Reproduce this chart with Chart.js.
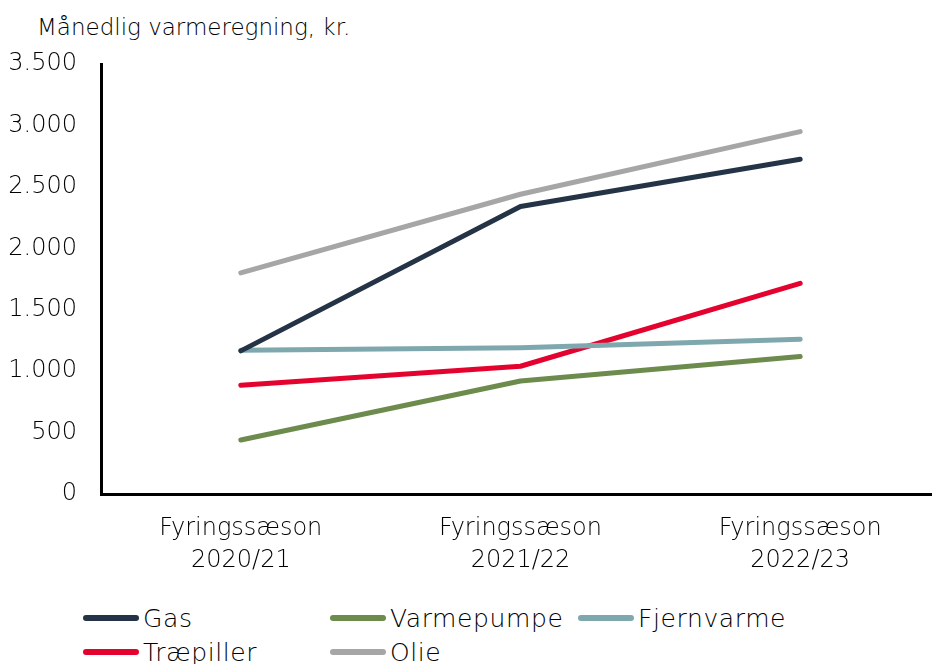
<!DOCTYPE html>
<html>
<head>
<meta charset="utf-8">
<script src="https://cdn.jsdelivr.net/npm/chart.js@4/dist/chart.umd.min.js"></script>
<style>
  html, body { margin: 0; padding: 0; background: #fff; overflow: hidden; width: 932px; height: 664px; }
  #wrap { position: absolute; left: 0; top: 0; width: 945px; height: 580px; }
  #title { position: absolute; left: 37px; top: 14px; font: 200 23px "DejaVu Sans", sans-serif; color: #000; }
  .leg { position: absolute; font: 200 25px "DejaVu Sans", sans-serif; letter-spacing: 0.6px; color: #000; display: flex; align-items: center; white-space: nowrap; height: 30px; }
  .leg span.sw { display: inline-block; width: 56px; height: 6px; border-radius: 3px; margin-right: 4px; }
</style>
</head>
<body>
<div id="title">Månedlig varmeregning, kr.</div>
<div id="wrap"><canvas id="chart"></canvas></div>
<div id="legend"></div>
<script>
var seasons = [['Fyringssæson', '2020/21'], ['Fyringssæson', '2021/22'], ['Fyringssæson', '2022/23']];
var gas = [1165, 2340, 2725];
var varmepumpe = [440, 920, 1120];
var fjernvarme = [1170, 1190, 1260];
var traepiller = [885, 1040, 1715];
var olie = [1800, 2440, 2950];
var yTicks = [0, 500, 1000, 1500, 2000, 2500, 3000, 3500];

function fmt(v) {
  return String(v).replace(/\B(?=(\d{3})+(?!\d))/g, '.');
}

function line(label, data, color) {
  return {
    label: label,
    data: data,
    borderColor: color,
    backgroundColor: color,
    borderWidth: 5,
    pointRadius: 0,
    tension: 0,
    fill: false,
    borderCapStyle: 'round',
    borderJoinStyle: 'round'
  };
}

var datasets = [
  line('Gas', gas, '#243446'),
  line('Varmepumpe', varmepumpe, '#6e8b4e'),
  line('Fjernvarme', fjernvarme, '#7fa8ae'),
  line('Træpiller', traepiller, '#e4032e'),
  line('Olie', olie, '#a6a6a6')
];

var tickFont = { family: 'DejaVu Sans', size: 24, weight: 200, lineHeight: 1.33 };

var ctx = document.getElementById('chart');
var chart = new Chart(ctx, {
  type: 'line',
  data: { labels: seasons, datasets: datasets },
  options: {
    responsive: true,
    maintainAspectRatio: false,
    animation: false,
    layout: { padding: { top: 64, right: 5, left: 0, bottom: 0 } },
    plugins: { legend: { display: false }, tooltip: { enabled: false } },
    scales: {
      x: {
        offset: true,
        grid: { display: false, drawTicks: false },
        border: { display: true, color: '#000', width: 3 },
        ticks: { color: '#000', font: tickFont, padding: 19, maxRotation: 0 },
        afterFit: function(s) { s.height = 86; }
      },
      y: {
        min: 0,
        max: 3500,
        afterBuildTicks: function(s) { s.ticks = yTicks.map(function(v) { return { value: v }; }); },
        grid: { display: false, drawTicks: false },
        border: { display: true, color: '#000', width: 3 },
        ticks: { color: '#000', font: { family: 'DejaVu Sans', size: 24, weight: 200 }, padding: 24, callback: function(v) { return fmt(v); } },
        afterFit: function(s) { s.width = 101; }
      }
    }
  }
});

// legend from the datasets
var legPos = [[83, 618], [330, 618], [578, 618], [83, 652], [330, 652]];
var legend = document.getElementById('legend');
chart.data.datasets.forEach(function(ds, i) {
  var d = document.createElement('div');
  d.className = 'leg';
  d.style.left = legPos[i][0] + 'px';
  d.style.top = (legPos[i][1] - 15) + 'px';
  d.innerHTML = '<span class="sw" style="background:' + ds.borderColor + '"></span>' + ds.label;
  legend.appendChild(d);
});
</script>
</body>
</html>
